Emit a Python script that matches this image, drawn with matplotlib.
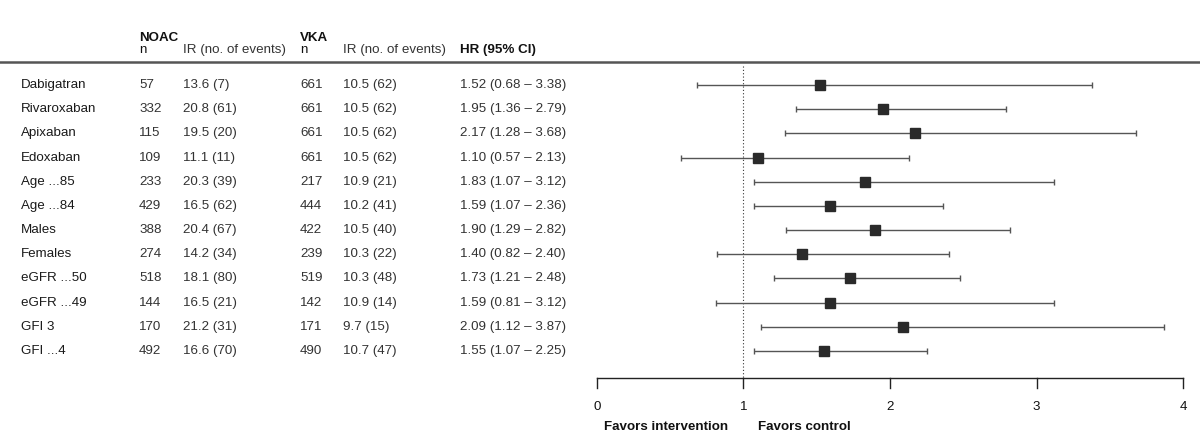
import numpy as np
import matplotlib.pyplot as plt
import matplotlib.transforms as mtransforms

plt.rcParams['font.family'] = ['Liberation Sans', 'DejaVu Sans']

# data
subgroups = ['Dabigatran', 'Rivaroxaban', 'Apixaban', 'Edoxaban', 'Age ...85', 'Age ...84',
             'Males', 'Females', 'eGFR ...50', 'eGFR ...49', 'GFI 3', 'GFI ...4']
noac_n = [57, 332, 115, 109, 233, 429, 388, 274, 518, 144, 170, 492]
noac_ir = [13.6, 20.8, 19.5, 11.1, 20.3, 16.5, 20.4, 14.2, 18.1, 16.5, 21.2, 16.6]
noac_events = [7, 61, 20, 11, 39, 62, 67, 34, 80, 21, 31, 70]
vka_n = [661, 661, 661, 661, 217, 444, 422, 239, 519, 142, 171, 490]
vka_ir = [10.5, 10.5, 10.5, 10.5, 10.9, 10.2, 10.5, 10.3, 10.3, 10.9, 9.7, 10.7]
vka_events = [62, 62, 62, 62, 21, 41, 40, 22, 48, 14, 15, 47]
hr = [1.52, 1.95, 2.17, 1.10, 1.83, 1.59, 1.90, 1.40, 1.73, 1.59, 2.09, 1.55]
ci_low = [0.68, 1.36, 1.28, 0.57, 1.07, 1.07, 1.29, 0.82, 1.21, 0.81, 1.12, 1.07]
ci_high = [3.38, 2.79, 3.68, 2.13, 3.12, 2.36, 2.82, 2.40, 2.48, 3.12, 3.87, 2.25]
x_ticks = [0, 1, 2, 3, 4]

fig = plt.figure(figsize=(12, 4.46), dpi=100)
ax = fig.add_axes([0, 0, 1, 1])
ax.set_xlim(-597 / 146.5, (1200 - 597) / 146.5)
ax.set_ylim((446 - 85) / 24.18, -85 / 24.18)
ax.axis('off')

cols = mtransforms.blended_transform_factory(ax.transAxes, ax.transData)

rows = np.arange(len(subgroups))
fs = 9.6
text_c = '#333333'
head_c = '#111111'
top_y = (41 - 85) / 24.18   # baseline of NOAC / VKA
sub_y = (53 - 85) / 24.18   # baseline of column names

# header
hdr = dict(transform=cols, fontsize=fs, va='baseline')
ax.text(139 / 1200, top_y, 'NOAC', fontweight='bold', color=head_c, **hdr)
ax.text(139 / 1200, sub_y, 'n', color=head_c, **hdr)
ax.text(183 / 1200, sub_y, 'IR (no. of events)', color=text_c, **hdr)
ax.text(300 / 1200, top_y, 'VKA', fontweight='bold', color=head_c, **hdr)
ax.text(300 / 1200, sub_y, 'n', color=head_c, **hdr)
ax.text(343 / 1200, sub_y, 'IR (no. of events)', color=text_c, **hdr)
ax.text(460 / 1200, sub_y, 'HR (95% CI)', fontweight='bold', color=head_c, **hdr)
ax.plot([0, 1], [-0.95, -0.95], transform=cols, color='#555555', lw=1.8, clip_on=False)

for i in rows:
    ax.text(21 / 1200, i, subgroups[i], transform=cols, fontsize=fs, color='#1a1a1a', va='center')
    ax.text(139 / 1200, i, str(noac_n[i]), transform=cols, fontsize=fs, color=text_c, va='center')
    ax.text(183 / 1200, i, f'{noac_ir[i]} ({noac_events[i]})', transform=cols, fontsize=fs, color=text_c, va='center')
    ax.text(300 / 1200, i, str(vka_n[i]), transform=cols, fontsize=fs, color=text_c, va='center')
    ax.text(343 / 1200, i, f'{vka_ir[i]} ({vka_events[i]})', transform=cols, fontsize=fs, color=text_c, va='center')
    ax.text(460 / 1200, i, f'{hr[i]:.2f} ({ci_low[i]:.2f} \u2013 {ci_high[i]:.2f})', transform=cols,
            fontsize=fs, color=text_c, va='center')

# forest marks
hr_a = np.array(hr)
err = [hr_a - np.array(ci_low), np.array(ci_high) - hr_a]
ax.errorbar(hr_a, rows, xerr=err, fmt='s', color='#2a2a2a', ecolor='#555555', elinewidth=1,
            capsize=2.5, capthick=1, markersize=7, zorder=3)

# reference line at 1
axis_y = (378 - 85) / 24.18
ax.plot([1, 1], [-0.8, axis_y], color='#333333', lw=0.8, ls=(0, (1, 2)), zorder=2)

# x axis
ax.plot([x_ticks[0], x_ticks[-1]], [axis_y, axis_y], color='#222222', lw=1)
for t in x_ticks:
    ax.plot([t, t], [axis_y, axis_y + 0.42], color='#222222', lw=1)
    ax.text(t, (407 - 85) / 24.18, str(t), ha='center', va='center', fontsize=fs, color=head_c)
ax.text(0.05, (427 - 85) / 24.18, 'Favors intervention', fontsize=fs, fontweight='bold', color=head_c, va='center')
ax.text(1.1, (427 - 85) / 24.18, 'Favors control', fontsize=fs, fontweight='bold', color=head_c, va='center')

fig.savefig('out.png', dpi=100)
